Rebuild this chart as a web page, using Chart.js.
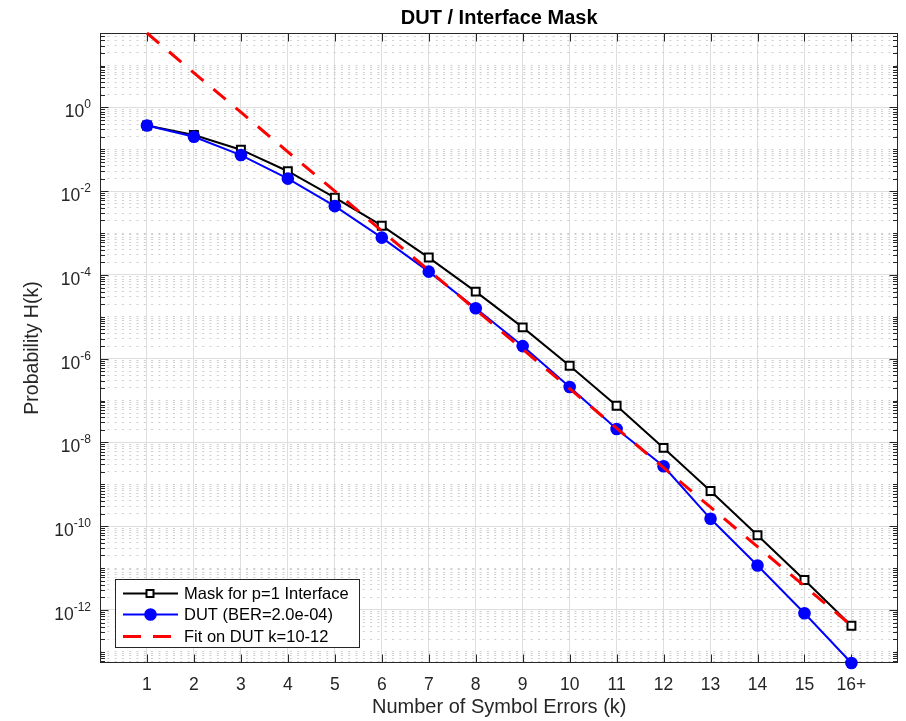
<!DOCTYPE html>
<html>
<head>
<meta charset="utf-8">
<script src="https://cdn.jsdelivr.net/npm/chart.js@4/dist/chart.umd.min.js"></script>
<style>
  html, body { margin: 0; padding: 0; background: #fff; }
  #wrap { width: 906px; height: 721px; }
</style>
</head>
<body>
<div id="wrap"><canvas id="myChart" width="906" height="721"></canvas></div>
<script>
// data
var kValues = [1, 2, 3, 4, 5, 6, 7, 8, 9, 10, 11, 12, 13, 14, 15, 16];
var kLabels = ['1', '2', '3', '4', '5', '6', '7', '8', '9', '10', '11', '12', '13', '14', '15', '16+'];
var maskValues = [0.37, 0.22, 0.098, 0.030, 0.0070, 0.0015, 2.6e-4, 4.0e-5, 5.6e-6, 6.8e-7, 7.5e-8, 7.4e-9, 6.9e-10, 6.1e-11, 5.2e-12, 4.2e-13];
var dutValues = [0.37, 0.20, 0.073, 0.020, 0.0044, 7.8e-4, 1.2e-4, 1.6e-5, 2.0e-6, 2.1e-7, 2.1e-8, 2.7e-9, 1.5e-10, 1.15e-11, 8.3e-13, 5.4e-14];
var fitValues = [60, 6.7, 0.77, 0.087, 0.0100, 1.13e-3, 1.29e-4, 1.48e-5, 1.68e-6, 1.92e-7, 2.19e-8, 2.49e-9, 2.84e-10, 3.24e-11, 3.70e-12, 4.22e-13];
var yTickExponents = [0, -2, -4, -6, -8, -10, -12];
var yMin = 5.4e-14, yMax = 60;
var seriesNames = ['Mask for p=1 Interface', 'DUT (BER=2.0e-04)', 'Fit on DUT k=10-12'];

var axisColor = '#262626';
var fontFam = '"Liberation Sans", Arial, Helvetica, sans-serif';

function pts(vals) {
    return vals.map(function (v, i) { return { x: kValues[i], y: v }; });
}

function isMajor(v) {
    var l = Math.log10(v);
    var r = Math.round(l);
    return Math.abs(l - r) < 1e-6 && yTickExponents.indexOf(r) >= 0;
}

var axesBox = {
    id: 'axesBox',
    beforeDatasetsDraw: function (chart) {
        var ctx = chart.ctx, a = chart.chartArea;
        var xs = chart.scales.x, ys = chart.scales.y;
        var L = Math.round(a.left) + 0.5, R = Math.round(a.right) - 0.5;
        var T = Math.round(a.top) + 0.5, B = Math.round(a.bottom) - 0.5;
        ctx.save();
        ctx.strokeStyle = axisColor;
        ctx.lineWidth = 1;
        ctx.beginPath();
        kValues.forEach(function (k) {
            var px = Math.round(xs.getPixelForValue(k)) + 0.5;
            ctx.moveTo(px, B); ctx.lineTo(px, B - 8);
            ctx.moveTo(px, T); ctx.lineTo(px, T + 8);
        });
        ys.ticks.forEach(function (t) {
            var py = Math.round(ys.getPixelForValue(t.value)) + 0.5;
            var len = isMajor(t.value) ? 8 : 4.5;
            ctx.moveTo(L, py); ctx.lineTo(L + len, py);
            ctx.moveTo(R, py); ctx.lineTo(R - len, py);
        });
        ctx.stroke();
        ctx.strokeRect(L, T, R - L, B - T);
        ctx.restore();
    },
    afterDraw: function (chart) {
        var ctx = chart.ctx, a = chart.chartArea;
        var ys = chart.scales.y;
        ctx.save();
        // title
        ctx.fillStyle = '#000';
        ctx.font = 'bold 20px ' + fontFam;
        ctx.textAlign = 'center';
        ctx.textBaseline = 'middle';
        ctx.fillText('DUT / Interface Mask', (a.left + a.right) / 2, 18);

        // y tick labels 10^e
        ctx.fillStyle = axisColor;
        ctx.textBaseline = 'alphabetic';
        yTickExponents.forEach(function (e) {
            var py = ys.getPixelForValue(Math.pow(10, e));
            var sup = String(e);
            ctx.font = '12px ' + fontFam;
            var sw = ctx.measureText(sup).width;
            ctx.textAlign = 'right';
            ctx.fillText(sup, 91, py + 1);
            ctx.font = '17.5px ' + fontFam;
            ctx.fillText('10', 91 - sw, py + 10);
        });

        // legend
        var bx = 115.5, by = 579.5, bw = 244, bh = 68;
        ctx.fillStyle = '#fff';
        ctx.fillRect(bx, by, bw, bh);
        ctx.strokeStyle = axisColor;
        ctx.lineWidth = 1;
        ctx.strokeRect(bx, by, bw, bh);
        var rows = [593.5, 614.5, 636.5];
        var ds = chart.data.datasets;
        for (var i = 0; i < 3; i++) {
            var d = ds[i], y = rows[i];
            ctx.save();
            ctx.strokeStyle = d.borderColor;
            ctx.lineWidth = d.borderWidth;
            ctx.setLineDash(i === 2 ? [18, 12] : []);
            ctx.beginPath();
            ctx.moveTo(123, y); ctx.lineTo(i === 2 ? 171 : 178, y);
            ctx.stroke();
            ctx.restore();
            if (i === 0) {
                ctx.fillStyle = '#fff';
                ctx.fillRect(146.5, y - 3.5, 7, 7);
                ctx.strokeStyle = '#000';
                ctx.lineWidth = 2;
                ctx.strokeRect(146.5, y - 3.5, 7, 7);
            } else if (i === 1) {
                ctx.fillStyle = '#0000ff';
                ctx.beginPath();
                ctx.arc(150.5, y, 6.3, 0, Math.PI * 2);
                ctx.fill();
            }
            ctx.fillStyle = '#000';
            ctx.font = '16.5px ' + fontFam;
            ctx.textAlign = 'left';
            ctx.textBaseline = 'middle';
            ctx.fillText(d.label, 184, y + 1);
        }
        ctx.restore();
    }
};

const data = {
    datasets: [
        {
            label: seriesNames[0],
            data: pts(maskValues),
            borderColor: '#000000',
            borderWidth: 2,
            pointStyle: 'rect',
            pointRadius: 5.6,
            pointBorderWidth: 2,
            pointBorderColor: '#000000',
            pointBackgroundColor: '#ffffff',
            clip: false,
            order: 2
        },
        {
            label: seriesNames[1],
            data: pts(dutValues),
            borderColor: '#0000ff',
            borderWidth: 2,
            pointStyle: 'circle',
            pointRadius: 6.3,
            pointBorderWidth: 0,
            pointBackgroundColor: '#0000ff',
            clip: false,
            order: 1
        },
        {
            label: seriesNames[2],
            data: pts(fitValues),
            borderColor: '#ff0000',
            borderWidth: 3,
            borderDash: [16, 13],
            pointRadius: 0,
            clip: false,
            order: 0
        }
    ]
};

const config = {
    type: 'line',
    data: data,
    options: {
        responsive: false,
        devicePixelRatio: 1,
        animation: false,
        layout: { padding: { top: 33, right: 5, left: 0, bottom: 0 } },
        plugins: {
            legend: { display: false },
            tooltip: { enabled: false },
            title: { display: false }
        },
        scales: {
            x: {
                type: 'linear',
                min: 0,
                max: 17,
                afterFit: function (scale) {
                    scale.height = 58;
                    scale.paddingLeft = 0;
                    scale.paddingRight = 0;
                },
                ticks: {
                    stepSize: 1,
                    autoSkip: false,
                    maxRotation: 0,
                    padding: 12,
                    color: axisColor,
                    font: { family: fontFam, size: 17.5 },
                    callback: function (v) { return (v >= 1 && v <= 16) ? kLabels[v - 1] : ''; }
                },
                grid: {
                    drawTicks: false,
                    color: function (c) {
                        if (!c.tick) return 'rgba(0,0,0,0)';
                        var v = c.tick.value;
                        return (v <= 0 || v >= 17) ? 'rgba(0,0,0,0)' : '#dedede';
                    },
                    lineWidth: 1
                },
                border: { display: false },
                title: {
                    display: true,
                    text: 'Number of Symbol Errors (k)',
                    color: axisColor,
                    font: { family: fontFam, size: 20 },
                    padding: { top: 0, bottom: 2 }
                }
            },
            y: {
                type: 'logarithmic',
                min: yMin,
                max: yMax,
                afterFit: function (scale) {
                    scale.width = 100;
                    scale.paddingTop = 0;
                    scale.paddingBottom = 0;
                },
                afterBuildTicks: function (scale) {
                    var t = [];
                    for (var e = -14; e <= 2; e++) {
                        for (var m = 1; m <= 9; m++) {
                            var v = m * Math.pow(10, e);
                            if (v >= yMin && v <= yMax) t.push({ value: v });
                        }
                    }
                    scale.ticks = t;
                },
                ticks: {
                    autoSkip: false,
                    callback: function () { return ''; }
                },
                grid: {
                    drawTicks: false,
                    lineWidth: 1,
                    color: function (c) {
                        if (!c.tick) return 'rgba(0,0,0,0)';
                        return isMajor(c.tick.value) ? '#dedede' : '#cfcfcf';
                    }
                },
                border: {
                    display: false,
                    dash: function (c) {
                        if (!c.tick) return [];
                        return isMajor(c.tick.value) ? [] : [2, 5.3];
                    }
                },
                title: {
                    display: true,
                    text: 'Probability H(k)',
                    color: axisColor,
                    font: { family: fontFam, size: 19.5 },
                    padding: { top: 21, bottom: 0 }
                }
            }
        }
    },
    plugins: [axesBox]
};

const myChart = new Chart(document.getElementById('myChart'), config);
</script>
</body>
</html>
